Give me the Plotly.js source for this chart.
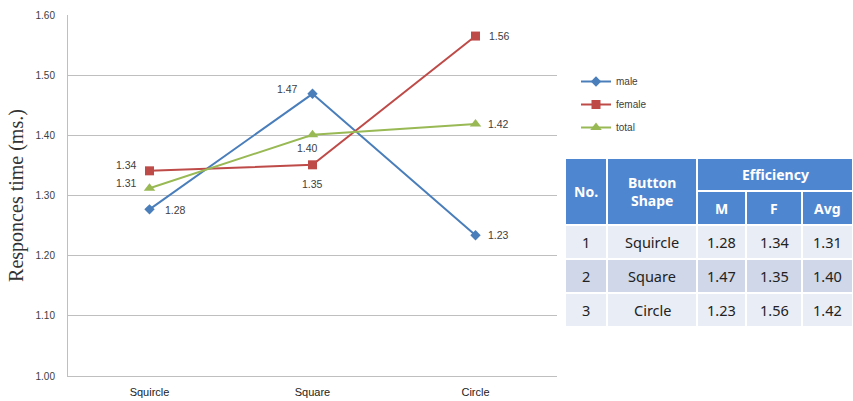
<!DOCTYPE html>
<html><head><meta charset="utf-8">
<script src="https://cdn.plot.ly/plotly-3.0.1.min.js"></script>
<style>html,body{margin:0;padding:0;background:#fff}#chart{width:853px;height:401px}</style>
</head><body><div id="chart"></div>
<script>
// ---- data ----
const categories = ['Squircle', 'Square', 'Circle'];
const maleValues = [1.277, 1.469, 1.234];
const femaleValues = [1.341, 1.351, 1.565];
const totalValues = [1.312, 1.401, 1.419];
const maleLabels = ['1.28', '1.47', '1.23'];
const femaleLabels = ['1.34', '1.35', '1.56'];
const totalLabels = ['1.31', '1.40', '1.42'];
const yTickValues = [1.0, 1.1, 1.2, 1.3, 1.4, 1.5, 1.6];
const seriesNames = ['male', 'female', 'total'];

// table contents
const tableNo = ['1', '2', '3'];
const tableShape = ['Squircle', 'Square', 'Circle'];
const tableM = ['1.28', '1.47', '1.23'];
const tableF = ['1.34', '1.35', '1.56'];
const tableAvg = ['1.31', '1.40', '1.42'];
const tableHeader = {no: 'No.', shape: 'Button<br>Shape', group: 'Efficiency', sub: ['M', 'F', 'Avg']};

// ---- styles ----
const colors = ['#4A7EBB', '#BE4B48', '#98B954'];
const symbols = ['diamond', 'square', 'triangle-up'];
const msizes = [8, 9, 10];
// label offsets in px [xshift, yshift] per series/point
const labelShift = [
  [[26, -1], [-25, 5], [23, 0]],
  [[-23, 6], [0, -19], [24, 0]],
  [[-23, 5], [-5, -13], [23, 0]]
];

const L = 68, R = 557, T = 15, B = 376;
const px = x => (x - L) / (R - L);
const py = y => (B - y) / (B - T);

const values = [maleValues, femaleValues, totalValues];
const labels = [maleLabels, femaleLabels, totalLabels];

const traces = values.map((v, i) => ({
  type: 'scatter', mode: 'lines+markers', name: seriesNames[i],
  x: categories, y: v, legendgroup: 'g' + i,
  line: {color: colors[i], width: 2},
  marker: {color: colors[i], symbol: symbols[i], size: msizes[i]},
  hoverinfo: 'skip'
}));

const annotations = [];
values.forEach((v, i) => v.forEach((val, j) => {
  annotations.push({
    x: categories[j], y: val, xref: 'x', yref: 'y', text: labels[i][j],
    showarrow: false, xshift: labelShift[i][j][0], yshift: labelShift[i][j][1],
    font: {family: 'Liberation Sans, Arial, sans-serif', size: 10.5, color: '#404040'}
  });
}));

// ---- table drawn with shapes ----
const shapes = [];
const colX = [565, 607, 697, 746, 802, 853];
const rowY = [158, 191, 225, 259, 293, 327];
const headBg = '#4F86D0';
const rowBg = ['#E9EDF5', '#CFD7E8', '#E9EDF5'];
function cell(x0, x1, y0, y1, fill) {
  shapes.push({type: 'rect', xref: 'paper', yref: 'paper', x0: px(x0), x1: px(x1), y0: py(y1), y1: py(y0),
    fillcolor: fill, line: {color: '#FFFFFF', width: 2}, layer: 'above'});
}
function text(x0, x1, y0, y1, t, bold, size, color) {
  annotations.push({xref: 'paper', yref: 'paper', x: px((x0 + x1) / 2), y: py((y0 + y1) / 2),
    xanchor: 'center', yanchor: 'middle', showarrow: false,
    text: bold ? '<b>' + t + '</b>' : t,
    font: {family: 'Noto Sans, Open Sans, sans-serif', size: size, color: color}});
}
cell(colX[0], colX[1], rowY[0], rowY[2], headBg);
cell(colX[1], colX[2], rowY[0], rowY[2], headBg);
cell(colX[2], colX[5], rowY[0], rowY[1], headBg);
for (let k = 0; k < 3; k++) cell(colX[2 + k], colX[3 + k], rowY[1], rowY[2], headBg);
text(colX[0], colX[1], rowY[0], rowY[2], tableHeader.no, true, 14, '#FFFFFF');
text(colX[1], colX[2], rowY[0], rowY[2], tableHeader.shape, true, 14, '#FFFFFF');
text(colX[2], colX[5], rowY[0], rowY[1], tableHeader.group, true, 14, '#FFFFFF');
tableHeader.sub.forEach((s, k) => text(colX[2 + k], colX[3 + k], rowY[1], rowY[2], s, true, 14, '#FFFFFF'));
const cols = [tableNo, tableShape, tableM, tableF, tableAvg];
for (let r = 0; r < 3; r++) {
  for (let c = 0; c < 5; c++) {
    cell(colX[c], colX[c + 1], rowY[2 + r], rowY[3 + r], rowBg[r]);
    text(colX[c], colX[c + 1], rowY[2 + r], rowY[3 + r], cols[c][r], false, 14.5, '#222222');
  }
}

const layout = {
  width: 853, height: 401,
  margin: {l: L, r: 853 - R, t: T, b: 401 - B, pad: 0},
  paper_bgcolor: '#FFFFFF', plot_bgcolor: '#FFFFFF',
  showlegend: true,
  legend: {x: px(576), y: py(67), xanchor: 'left', yanchor: 'top', tracegroupgap: 4,
    font: {family: 'Liberation Sans, Arial, sans-serif', size: 10, color: '#404040'},
    bgcolor: 'rgba(0,0,0,0)', borderwidth: 0},
  xaxis: {type: 'category', range: [-0.5, 2.5], showgrid: false, zeroline: false,
    showline: true, linecolor: '#BFBFBF', linewidth: 1, ticks: '', ticklabelstandoff: 6,
    tickfont: {family: 'Liberation Sans, Arial, sans-serif', size: 11, color: '#222222'}, fixedrange: true},
  yaxis: {range: [1.0, 1.6], tickvals: yTickValues, tickformat: '.2f', showgrid: true,
    gridcolor: '#BFBFBF', gridwidth: 1, zeroline: false, showline: true, linecolor: '#BFBFBF', linewidth: 1,
    ticks: '', ticklabelstandoff: 10,
    tickfont: {family: 'Liberation Sans, Arial, sans-serif', size: 10, color: '#404040'},
    title: {text: 'Responces time (ms.)', standoff: 6,
      font: {family: 'Liberation Serif, Times New Roman, serif', size: 20, color: '#333333'}},
    fixedrange: true},
  annotations: annotations,
  shapes: shapes
};

Plotly.newPlot('chart', traces, layout, {displayModeBar: false, staticPlot: true});
</script></body></html>
